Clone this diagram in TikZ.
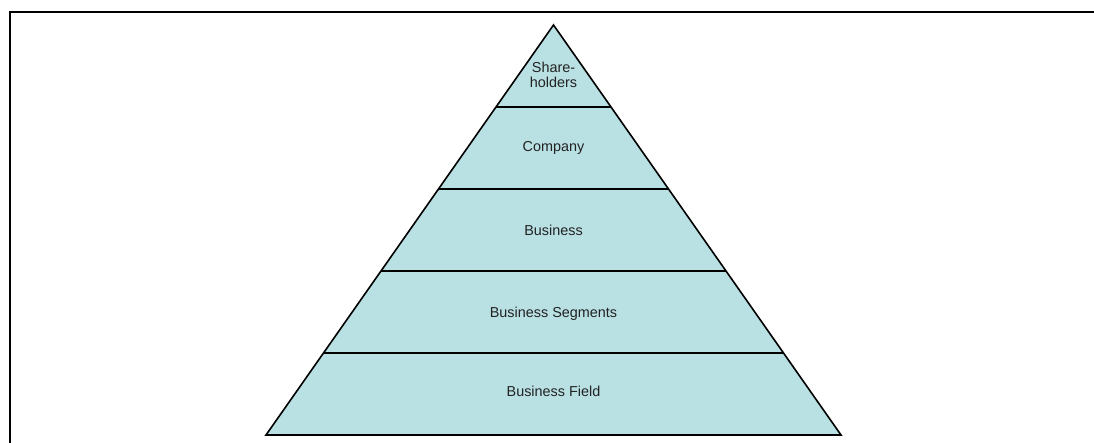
\documentclass[tikz,border=0pt]{standalone}
\usepackage{fontspec}
\setmainfont{Liberation Sans}
\usetikzlibrary{calc}
\definecolor{layerfill}{RGB}{185,224,227}
\definecolor{layertext}{RGB}{34,34,34}
\tikzset{
  frameline/.style={line width=2.4pt, black},
  layeredge/.style={line width=1.6pt, black},
  layerlabel/.style={font=\fontsize{14.4}{15.5}\selectfont, text=layertext, align=center, inner sep=0pt}
}
\begin{document}
\begin{tikzpicture}[x=1pt,y=1pt]
\useasboundingbox (0,0) rectangle (1094,443);
% frame
\coordinate (f1) at (10,0);
\coordinate (f2) at (10,431);
\coordinate (f3) at (1094,431);
\draw[frameline] (f1) -- (f2) -- (f3);
% pyramid corners
\coordinate (A) at (553.5,418);
\coordinate (L) at (266,8);
\coordinate (R) at (841,8);
\fill[layerfill] (A) -- (L) -- (R) -- cycle;
\foreach \k in {0.2,0.4,0.6,0.8}{
  \draw[layeredge] ($(A)!\k!(L)$) -- ($(A)!\k!(R)$);
}
\draw[layeredge, line join=miter] (A) -- (L) -- (R) -- cycle;
% labels
\node[layerlabel] (sh) at (553.5,368) {Share-\\[-1pt]holders};
\node[layerlabel] (co) at (553.5,295) {Company};
\node[layerlabel] (bu) at (553.5,213) {Business};
\node[layerlabel] (bs) at (553.5,129.5) {Business Segments};
\node[layerlabel] (bf) at (553.5,52) {Business Field};
\end{tikzpicture}
\end{document}
